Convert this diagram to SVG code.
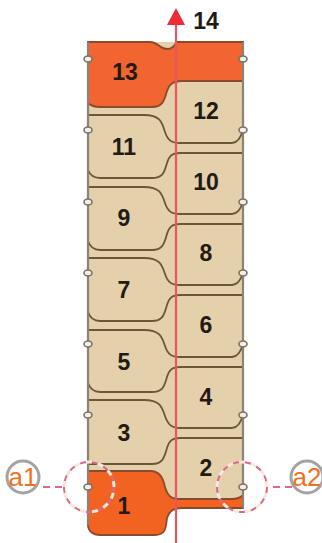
<svg xmlns="http://www.w3.org/2000/svg" width="322" height="543" viewBox="0 0 322 543">
<defs><style>
.o{stroke:#8a8478;stroke-width:2.2;fill:none}
.s{stroke:#6b5636;stroke-width:1.8;fill:none}
.d{fill:#f1efe8;stroke:#77736a;stroke-width:1.6}
.n{font:bold 23px "Liberation Sans",Arial,sans-serif;fill:#231a14;text-anchor:middle}
.a{font:26px "Liberation Sans",Arial,sans-serif;fill:#f4701c;text-anchor:middle}
.c{fill:#fff;stroke:#a3a3a3;stroke-width:3}
.p{stroke:#d9688a;stroke-width:2;fill:none;stroke-dasharray:7 5}
.w{stroke:#f7e8dc;stroke-width:3;fill:none;stroke-dasharray:6 6;stroke-dashoffset:6}
</style></defs>
<rect width="322" height="543" fill="#fff"/>
<rect x="88" y="42" width="155" height="460" fill="#e4d0ab"/>
<g id="connectors">
<path class="s" d="M88 115H144C160 115 162 122 165 132C168 141 172 143 180 143H232C238 143 241 137 243 130"/>
<path class="s" d="M243 153H180C172 153 169 156 167 163C164 174 162 178 152 178H100C94 178 90 175 88 170"/>
<path class="s" d="M88 187H144C160 187 162 194 165 203C168 212 172 214 180 214H232C238 214 241 208 243 202"/>
<path class="s" d="M243 224H180C172 224 169 227 167 234C164 245 162 250 152 250H100C94 250 90 247 88 241"/>
<path class="s" d="M88 258H144C160 258 162 265 165 274C168 283 172 285 180 285H232C238 285 241 279 243 273"/>
<path class="s" d="M243 295H180C172 295 169 298 167 305C164 316 162 321 152 321H100C94 321 90 318 88 312"/>
<path class="s" d="M88 330H144C160 330 162 337 165 346C168 355 172 357 180 357H232C238 357 241 351 243 344"/>
<path class="s" d="M243 367H180C172 367 169 370 167 377C164 388 162 392 152 392H100C94 392 90 389 88 383"/>
<path class="s" d="M88 400H144C160 400 162 407 165 416C168 425 172 428 180 428H232C238 428 241 422 243 415"/>
<path class="s" d="M243 438H180C172 438 169 441 167 448C164 459 162 464 152 464H88"/>
</g>
<g id="node-13"><path d="M88 42H150C158 42 160 49 167 49C172 49 174 46 177 42H243V81H182C172 81 169 85 167 91C164 102 162 107 152 107H100C94 107 90 105 88 103Z" fill="#f26430" stroke="#8a4a2e" stroke-width="1.8"/><text class="n" x="125" y="80">13</text></g>
<g id="node-1"><path d="M88 471H150C160 471 163 478 165 487C168 497 172 499 180 499H232C238 499 241 497 243 495V508H182C172 508 169 512 167 518C166 529 165 535 155 535H100C93 535 88 531 88 525Z" fill="#f26322" stroke="#8a4a2e" stroke-width="1.8"/><text class="n" x="124" y="514">1</text></g>
<g id="frame"><path class="o" d="M88 42V525M243 42V508"/></g>
<g id="node-12"><text class="n" x="206" y="119">12</text></g>
<g id="node-11"><text class="n" x="124" y="155">11</text></g>
<g id="node-10"><text class="n" x="206" y="190">10</text></g>
<g id="node-9"><text class="n" x="124" y="226">9</text></g>
<g id="node-8"><text class="n" x="206" y="261">8</text></g>
<g id="node-7"><text class="n" x="124" y="298">7</text></g>
<g id="node-6"><text class="n" x="206" y="333">6</text></g>
<g id="node-5"><text class="n" x="124" y="370">5</text></g>
<g id="node-4"><text class="n" x="206" y="405">4</text></g>
<g id="node-3"><text class="n" x="124" y="441">3</text></g>
<g id="node-2"><text class="n" x="206" y="476">2</text></g>
<g id="axis"><path d="M176 22V543" stroke="#e8575a" stroke-width="2.2"/><path d="M176 8L185 25H167Z" fill="#ee2a35"/><text class="n" x="206" y="29">14</text></g>
<g id="dots">
<ellipse class="d" cx="88" cy="59" rx="4" ry="3"/><ellipse class="d" cx="243" cy="59" rx="4" ry="3"/>
<ellipse class="d" cx="88" cy="130" rx="4" ry="3"/><ellipse class="d" cx="243" cy="130" rx="4" ry="3"/>
<ellipse class="d" cx="88" cy="202" rx="4" ry="3"/><ellipse class="d" cx="243" cy="202" rx="4" ry="3"/>
<ellipse class="d" cx="88" cy="273" rx="4" ry="3"/><ellipse class="d" cx="243" cy="273" rx="4" ry="3"/>
<ellipse class="d" cx="88" cy="344" rx="4" ry="3"/><ellipse class="d" cx="243" cy="344" rx="4" ry="3"/>
<ellipse class="d" cx="88" cy="415" rx="4" ry="3"/><ellipse class="d" cx="243" cy="415" rx="4" ry="3"/>
<ellipse class="d" cx="88" cy="487" rx="4" ry="3"/><ellipse class="d" cx="243" cy="487" rx="4" ry="3"/>
</g>
<g id="a1"><circle class="p" cx="89" cy="487" r="25"/><circle class="w" cx="89" cy="487" r="25"/><path class="p" d="M43 487H64"/><circle class="c" cx="23" cy="477" r="16"/><text class="a" x="23" y="486">a1</text></g>
<g id="a2"><circle class="p" cx="242" cy="487" r="25"/><circle class="w" cx="242" cy="487" r="25"/><path class="p" d="M273 487H293"/><circle class="c" cx="307" cy="477" r="16"/><text class="a" x="307" y="486">a2</text></g>
</svg>
